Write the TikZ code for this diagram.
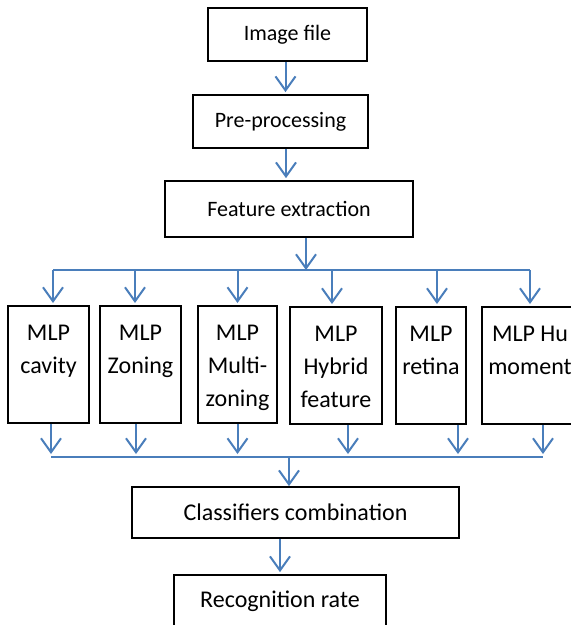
\documentclass[tikz,border=0pt]{standalone}
\usepackage{fontspec}
\setmainfont{Carlito}
\usetikzlibrary{arrows.meta}
\definecolor{flowblue}{RGB}{74,126,187}
\begin{document}
\begin{tikzpicture}[x=1pt,y=-1pt,
    font=\fontsize{24}{33}\selectfont,
    stage/.style={draw,line width=1.8pt,inner sep=0pt},
    small/.style={font=\fontsize{22}{27}\selectfont},
    mlp/.style={draw,line width=1.8pt,inner sep=0pt,align=flush center,anchor=north,text height=35pt,text depth=82pt},
    flow/.style={flowblue,line width=2pt,shorten >=2pt,-{Straight Barb[length=14pt,width=20pt]}},
    bus/.style={flowblue,line width=2pt}]
  \useasboundingbox (0,0) rectangle (571,625);
  \clip (0,0) rectangle (571,625);
  % main chain
  \node[stage,small,minimum width=159pt,minimum height=53pt] (img) at (287.5,34.5) {Image file};
  \node[stage,small,minimum width=175pt,minimum height=53pt] (pre) at (280.5,121.5) {Pre-processing};
  \node[stage,small,minimum width=248pt,minimum height=56pt] (feat) at (289,209) {Feature extraction};
  % classifiers
  \node[mlp,text width=81pt] (cav) at (48.5,305) {MLP\\cavity};
  \node[mlp,text width=81pt] (zon) at (140.5,305) {MLP\\Zoning};
  \node[mlp,text width=79pt] (mul) at (237.5,305) {MLP\\Multi-\\zoning};
  \node[mlp,text width=92pt] (hyb) at (336,306) {MLP\\Hybrid\\feature};
  \node[mlp,text width=70pt] (ret) at (431,306) {MLP\\retina};
  \node[mlp,text width=96pt] (hu) at (530,306) {MLP Hu\\moment};
  \node[stage,minimum width=327pt,minimum height=51pt] (cls) at (295.5,512.5) {Classifiers combination};
  \node[stage,minimum width=212pt,minimum height=53pt] (rec) at (280,601.5) {Recognition rate};
  % bus lines
  \coordinate (splitL) at (53,270);
  \coordinate (splitR) at (530,270);
  \coordinate (mergeL) at (51,457);
  \coordinate (mergeR) at (543,457);
  \draw[bus] (splitL) -- (splitR);
  \draw[bus] (mergeL) -- (mergeR);
  % arrows
  \draw[flow] ([xshift=-2pt]img.south) -- ([xshift=-2pt]img.south |- pre.north);
  \draw[flow] ([xshift=5.5pt]pre.south) -- ([xshift=5.5pt]pre.south |- feat.north);
  \draw[flow,shorten >=0pt] ([xshift=17pt]feat.south) -- ([xshift=17pt]feat.south |- splitL);
  \draw[flow] ([xshift=4.5pt]cav.north |- splitL) -- ([xshift=4.5pt]cav.north);
  \draw[flow] ([xshift=-5.5pt]zon.north |- splitL) -- ([xshift=-5.5pt]zon.north);
  \draw[flow] (mul.north |- splitL) -- (mul.north);
  \draw[flow] ([xshift=-4pt]hyb.north |- splitL) -- ([xshift=-4pt]hyb.north);
  \draw[flow] ([xshift=6pt]ret.north |- splitL) -- ([xshift=6pt]ret.north);
  \draw[flow] (hu.north |- splitL) -- (hu.north);
  \draw[flow,shorten >=3pt] ([xshift=2.5pt]cav.south) -- ([xshift=2.5pt]cav.south |- mergeL);
  \draw[flow,shorten >=3pt] ([xshift=-4.5pt]zon.south) -- ([xshift=-4.5pt]zon.south |- mergeL);
  \draw[flow,shorten >=3pt] (mul.south) -- (mul.south |- mergeL);
  \draw[flow,shorten >=3pt] ([xshift=12pt]hyb.south) -- ([xshift=12pt]hyb.south |- mergeL);
  \draw[flow,shorten >=3pt] ([xshift=27pt]ret.south) -- ([xshift=27pt]ret.south |- mergeL);
  \draw[flow,shorten >=3pt] ([xshift=13pt]hu.south) -- ([xshift=13pt]hu.south |- mergeL);
  \draw[flow,shorten >=0pt] ([xshift=-6.5pt]cls.north |- mergeL) -- ([xshift=-6.5pt]cls.north);
  \draw[flow] (cls.south -| rec.north) -- (rec.north);
\end{tikzpicture}
\end{document}
